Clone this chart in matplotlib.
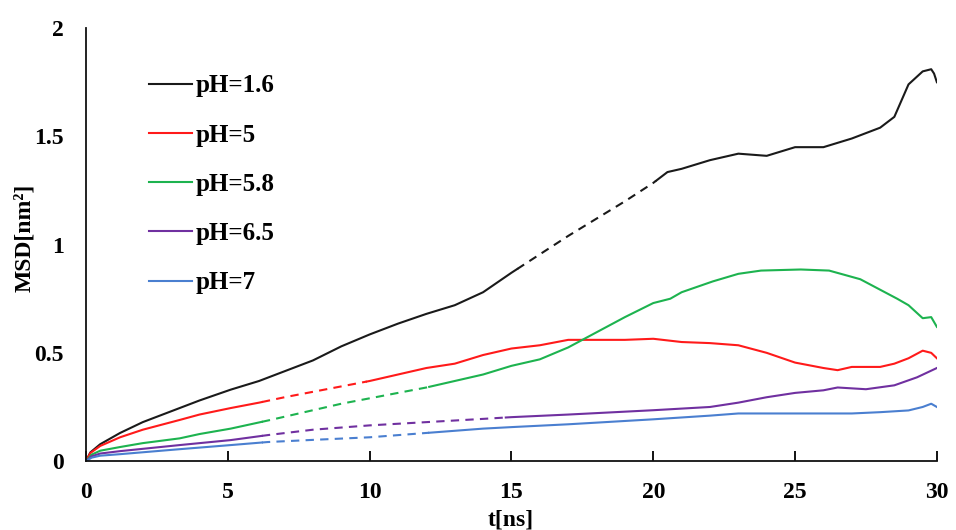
import matplotlib
matplotlib.use("Agg")
import matplotlib.pyplot as plt
import numpy as np

plt.rcParams['font.family'] = ['Liberation Serif', 'DejaVu Serif']
plt.rcParams['font.weight'] = 'bold'

labels = ["pH=1.6", "pH=5", "pH=5.8", "pH=6.5", "pH=7"]
colors = ["#1a1a1a", "#ff1a1a", "#1db34f", "#7030a0", "#4a7fd0"]

# MSD curves (t in ns, MSD in nm^2)
t_ph16 = [0, 0.15, 0.5, 1.2, 2, 3.3, 4, 5.1, 6.1, 7, 8, 9, 10, 11, 12, 13, 14, 15, 16, 17, 18, 19,
          20, 20.5, 21, 22, 23, 24, 25, 26, 27, 28, 28.5, 29, 29.5, 29.8, 29.9, 30]
msd_ph16 = [0, 0.04, 0.078, 0.13, 0.18, 0.245, 0.28, 0.33, 0.37, 0.415, 0.465, 0.53, 0.585, 0.635,
            0.68, 0.72, 0.78, 0.87, 0.955, 1.04, 1.12, 1.2, 1.285, 1.335, 1.35, 1.39, 1.42, 1.41,
            1.45, 1.45, 1.49, 1.54, 1.59, 1.74, 1.80, 1.81, 1.79, 1.75]

t_ph5 = [0, 0.15, 0.5, 1.2, 2, 3.3, 4, 5.1, 6.1, 7, 8, 9, 10, 11, 12, 13, 14, 15, 16, 17, 18, 19,
         20, 21, 22, 23, 24, 25, 26, 26.5, 27, 28, 28.5, 29, 29.5, 29.8, 30]
msd_ph5 = [0, 0.037, 0.07, 0.11, 0.145, 0.19, 0.215, 0.245, 0.27, 0.295, 0.32, 0.345, 0.37, 0.40,
           0.43, 0.45, 0.49, 0.52, 0.535, 0.56, 0.56, 0.56, 0.565, 0.55, 0.545, 0.535, 0.50,
           0.455, 0.43, 0.42, 0.435, 0.435, 0.45, 0.475, 0.51, 0.50, 0.475]

t_ph58 = [0, 0.2, 0.5, 1.2, 2, 3.3, 4, 5.1, 6.5, 8, 9, 10, 11, 12, 13, 14, 15, 16, 17, 18, 19, 20,
          20.6, 21, 22.1, 23, 23.8, 25.2, 26.2, 27.3, 28.6, 29, 29.5, 29.8, 30]
msd_ph58 = [0, 0.03, 0.048, 0.065, 0.083, 0.105, 0.125, 0.15, 0.19, 0.235, 0.265, 0.29,
            0.315, 0.34, 0.37, 0.40, 0.44, 0.47, 0.525, 0.595, 0.665, 0.73, 0.75, 0.78, 0.83,
            0.865, 0.88, 0.885, 0.88, 0.84, 0.75, 0.72, 0.66, 0.665, 0.62]

t_ph65 = [0, 0.2, 0.5, 1.2, 3.3, 5.1, 6.4, 8, 10, 12, 14, 15, 17, 20, 22, 23, 24, 25, 26, 26.5,
          27.5, 28.5, 29.3, 30]
msd_ph65 = [0, 0.022, 0.035, 0.046, 0.074, 0.097, 0.12, 0.145, 0.165, 0.18, 0.195, 0.203, 0.215,
            0.235, 0.25, 0.27, 0.295, 0.315, 0.327, 0.34, 0.332, 0.35, 0.387, 0.43]

t_ph7 = [0, 0.2, 0.5, 1.2, 3.3, 5.1, 6.4, 8, 10, 12, 14, 15, 17, 20, 22, 23, 25, 27, 28, 29, 29.5,
         29.8, 30]
msd_ph7 = [0, 0.016, 0.025, 0.032, 0.055, 0.074, 0.088, 0.098, 0.11, 0.13, 0.15, 0.157, 0.17,
           0.193, 0.21, 0.22, 0.22, 0.22, 0.226, 0.234, 0.25, 0.265, 0.25]

# time windows drawn dashed for each curve
dashed_ph16 = (15.2, 20.1)
dashed_ph5 = (6.2, 9.9)
dashed_ph58 = (6.2, 12.1)
dashed_ph65 = (6.2, 14.8)
dashed_ph7 = (6.2, 12.1)

series = [
    (t_ph16, msd_ph16, dashed_ph16),
    (t_ph5, msd_ph5, dashed_ph5),
    (t_ph58, msd_ph58, dashed_ph58),
    (t_ph65, msd_ph65, dashed_ph65),
    (t_ph7, msd_ph7, dashed_ph7),
]

fig = plt.figure(figsize=(9.56, 5.30), dpi=100)
ax = fig.add_axes([0.09, 0.130, 0.890, 0.817])

for (t, y, (d0, d1)), lab, c in zip(series, labels, colors):
    t = np.asarray(t, float)
    y = np.asarray(y, float)
    y0 = np.interp(d0, t, y)
    y1 = np.interp(d1, t, y)
    m1 = t < d0
    m3 = t > d1
    mid = (t > d0) & (t < d1)
    ax.plot(np.r_[t[m1], d0], np.r_[y[m1], y0], color=c, lw=1.5, label=lab)
    ax.plot(np.r_[d0, t[mid], d1], np.r_[y0, y[mid], y1], color=c, lw=1.5,
            linestyle=(0, (4, 3)))
    ax.plot(np.r_[d1, t[m3]], np.r_[y1, y[m3]], color=c, lw=1.5)

ax.set_xlim(0, 30)
ax.set_ylim(0, 2)
ax.set_xticks([0, 5, 10, 15, 20, 25, 30])
ax.set_yticks([0, 0.5, 1, 1.5, 2])
ax.set_xticklabels(["0", "5", "10", "15", "20", "25", "30"])
ax.set_yticklabels(["0", "0.5", "1", "1.5", "2"])

for s in ["top", "right"]:
    ax.spines[s].set_visible(False)
for s in ["left", "bottom"]:
    ax.spines[s].set_linewidth(1.3)
    ax.spines[s].set_color("#111111")

ax.tick_params(axis="x", direction="in", length=7, width=1.3, pad=15, labelsize=17)
ax.tick_params(axis="y", length=0, pad=16, labelsize=17)

ax.set_xlabel("t[ns]", fontsize=17, fontweight="bold")
ax.set_ylabel("MSD[nm²]", fontsize=17, fontweight="bold")
ax.xaxis.set_label_coords(0.499, -0.112)
ax.yaxis.set_label_coords(-0.060, 0.515)

ax.legend(loc="upper left", bbox_to_anchor=(0.048, 0.945), frameon=False,
          handlelength=1.7, handletextpad=0.15, labelspacing=1.05,
          prop={"size": 18, "weight": "bold"})

fig.savefig("out.png", dpi=100, facecolor="white")
